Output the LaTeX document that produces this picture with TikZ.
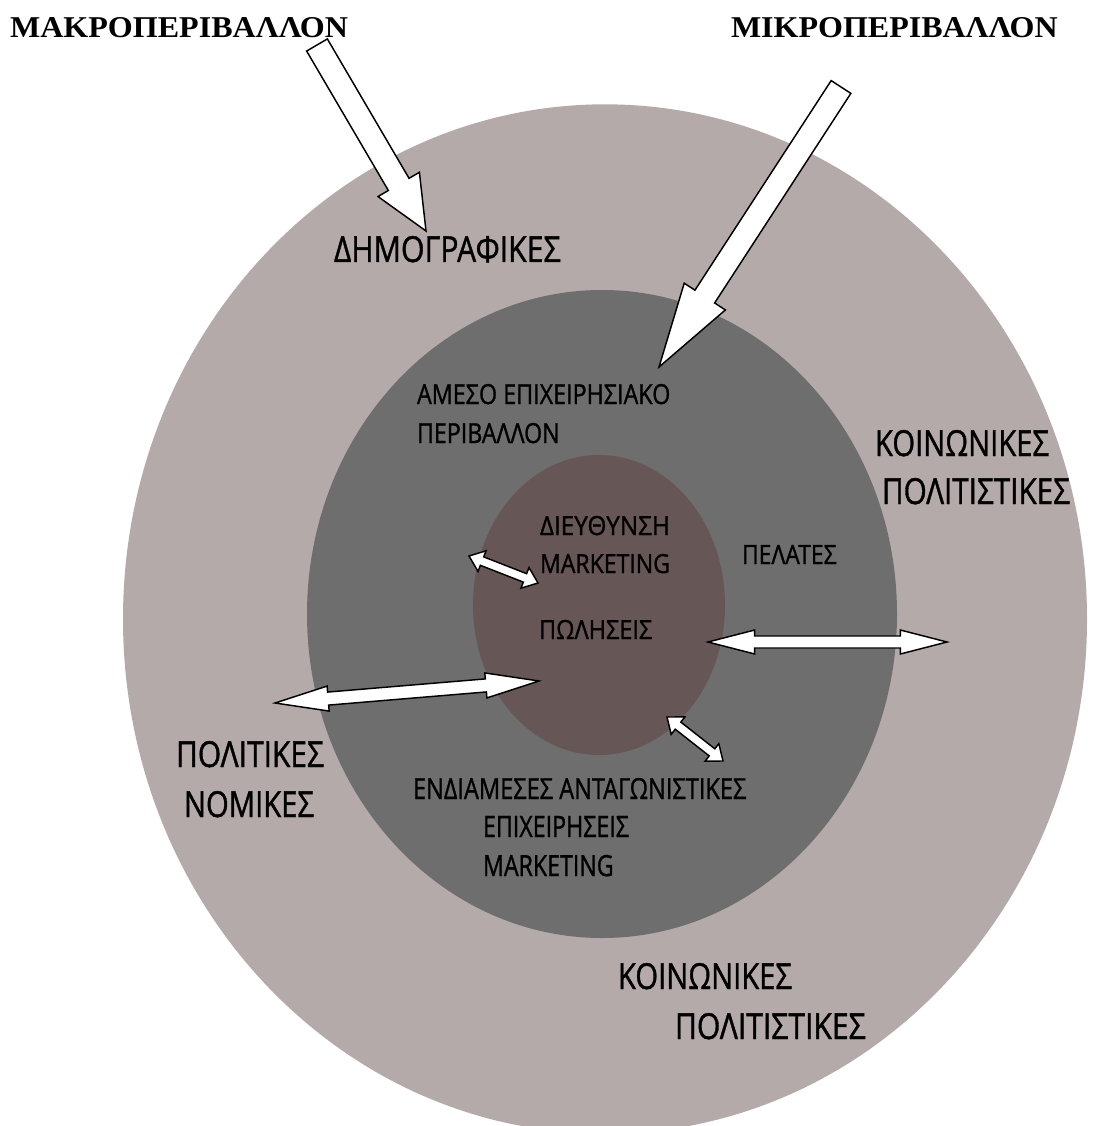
\documentclass[tikz,border=0pt]{standalone}
\usepackage{fontspec}
\usepackage{graphicx}
\setmainfont[FakeBold=1.2]{Open Sans}
\newfontfamily\titlefont{Liberation Serif}
\usetikzlibrary{calc,shapes.geometric}
\definecolor{outerc}{RGB}{180,170,170}
\definecolor{midc}{RGB}{110,110,110}
\definecolor{innerc}{RGB}{103,86,86}
\tikzset{
  ring/.style={ellipse, draw=none, inner sep=0pt, outer sep=0pt},
  barrow/.style={draw=black, fill=white, line width=1.1pt, line join=miter},
  lbl/.style={inner sep=0pt, outer sep=0pt, anchor=base west, text=black},
}
% single block arrow: tail, tip, shaft half width, head half width, head length
\newcommand{\sarrow}[5]{%
  \coordinate (hb) at ($(#2)!#5!(#1)$);
  \draw[barrow] ($(#1)!#3!90:(#2)$) -- ($(hb)!#3!-90:(#1)$) -- ($(hb)!#4!-90:(#1)$) -- (#2)
     -- ($(hb)!#4!90:(#1)$) -- ($(hb)!#3!90:(#1)$) -- ($(#1)!#3!-90:(#2)$) -- cycle;}
% double block arrow
\newcommand{\darrow}[5]{%
  \coordinate (ha) at ($(#1)!#5!(#2)$);
  \coordinate (hb) at ($(#2)!#5!(#1)$);
  \draw[barrow] (#1) -- ($(ha)!#4!90:(#2)$) -- ($(ha)!#3!90:(#2)$) -- ($(hb)!#3!-90:(#1)$)
     -- ($(hb)!#4!-90:(#1)$) -- (#2) -- ($(hb)!#4!90:(#1)$) -- ($(hb)!#3!90:(#1)$)
     -- ($(ha)!#3!-90:(#2)$) -- ($(ha)!#4!-90:(#2)$) -- cycle;}
% label: name, position (base west), width, cap height, text
\newcommand{\lbl}[5]{\node[lbl] (#1) at (#2) {\resizebox{#3}{#4}{#5}};}
\begin{document}
\begin{tikzpicture}[x=0.75pt,y=-0.75pt]
\useasboundingbox (0,0) rectangle (1092,1126);
\clip (0,0) rectangle (1092,1126);
\fill[white] (0,0) rectangle (1092,1126);
% rings
\node[ring, fill=outerc, minimum width=723pt, minimum height=772pt] (outer) at (605,619) {};
\node[ring, fill=midc, minimum width=442.5pt, minimum height=486pt] (middle) at (602,614) {};
\node[ring, fill=innerc, minimum width=189pt, minimum height=225pt] (inner) at (599,605) {};
% titles
\lbl{macro}{10,38}{253.5pt}{15pt}{\titlefont\bfseries ΜΑΚΡΟΠΕΡΙΒΑΛΛΟΝ}
\lbl{micro}{731,38}{245pt}{15pt}{\titlefont\bfseries ΜΙΚΡΟΠΕΡΙΒΑΛΛΟΝ}
% labels
\lbl{dem}{334,262}{170pt}{19.5pt}{ΔΗΜΟΓΡΑΦΙΚΕΣ}
\lbl{ames1}{417,404}{190pt}{15pt}{ΑΜΕΣΟ ΕΠΙΧΕΙΡΗΣΙΑΚΟ}
\lbl{ames2}{417,443}{107pt}{15pt}{ΠΕΡΙΒΑΛΛΟΝ}
\lbl{koin1}{875,456}{130.5pt}{19.5pt}{ΚΟΙΝΩΝΙΚΕΣ}
\lbl{pol1}{882,504}{141pt}{19.5pt}{ΠΟΛΙΤΙΣΤΙΚΕΣ}
\lbl{dieu}{540,535}{97.5pt}{14.3pt}{ΔΙΕΥΘΥΝΣΗ}
\lbl{mark1}{540,573}{97.5pt}{14.3pt}{MARKETING}
\lbl{pel}{742,564}{71pt}{14.3pt}{ΠΕΛΑΤΕΣ}
\lbl{polh}{539,639}{85pt}{14.3pt}{ΠΩΛΗΣΕΙΣ}
\lbl{polit}{176,767}{111pt}{19.5pt}{ΠΟΛΙΤΙΚΕΣ}
\lbl{nom}{184,817}{97.5pt}{19.5pt}{ΝΟΜΙΚΕΣ}
\lbl{end}{413,799}{250pt}{15.8pt}{ΕΝΔΙΑΜΕΣΕΣ ΑΝΤΑΓΩΝΙΣΤΙΚΕΣ}
\lbl{epix}{483,837}{109.5pt}{15.8pt}{ΕΠΙΧΕΙΡΗΣΕΙΣ}
\lbl{mark2}{483,876}{98pt}{15.8pt}{MARKETING}
\lbl{koin2}{618,989}{130.5pt}{19.5pt}{ΚΟΙΝΩΝΙΚΕΣ}
\lbl{pol2}{675,1039}{143pt}{19.5pt}{ΠΟΛΙΤΙΣΤΙΚΕΣ}
% arrow end points
\coordinate (bl-t) at (317,45);
\coordinate (bl-h) at (426,231);
\coordinate (br-t) at (841,87);
\coordinate (br-h) at (659,367);
\coordinate (s1-a) at (469,556);
\coordinate (s1-b) at (538,583);
\coordinate (s2-a) at (667,717);
\coordinate (s2-b) at (723,761);
\coordinate (dl-a) at (275,703);
\coordinate (dl-b) at (539,681);
\coordinate (dr-a) at (708,642);
\coordinate (dr-b) at (947,642);
% arrows
\sarrow{bl-t}{bl-h}{9pt}{18pt}{40.5pt}
\sarrow{br-t}{br-h}{8.8pt}{18.4pt}{63pt}
\darrow{s1-a}{s1-b}{3.4pt}{8.3pt}{10.5pt}
\darrow{s2-a}{s2-b}{3.4pt}{8.3pt}{10.5pt}
\darrow{dl-a}{dl-b}{4.9pt}{9.4pt}{40pt}
\darrow{dr-a}{dr-b}{4.5pt}{9pt}{35pt}
\end{tikzpicture}
\end{document}
